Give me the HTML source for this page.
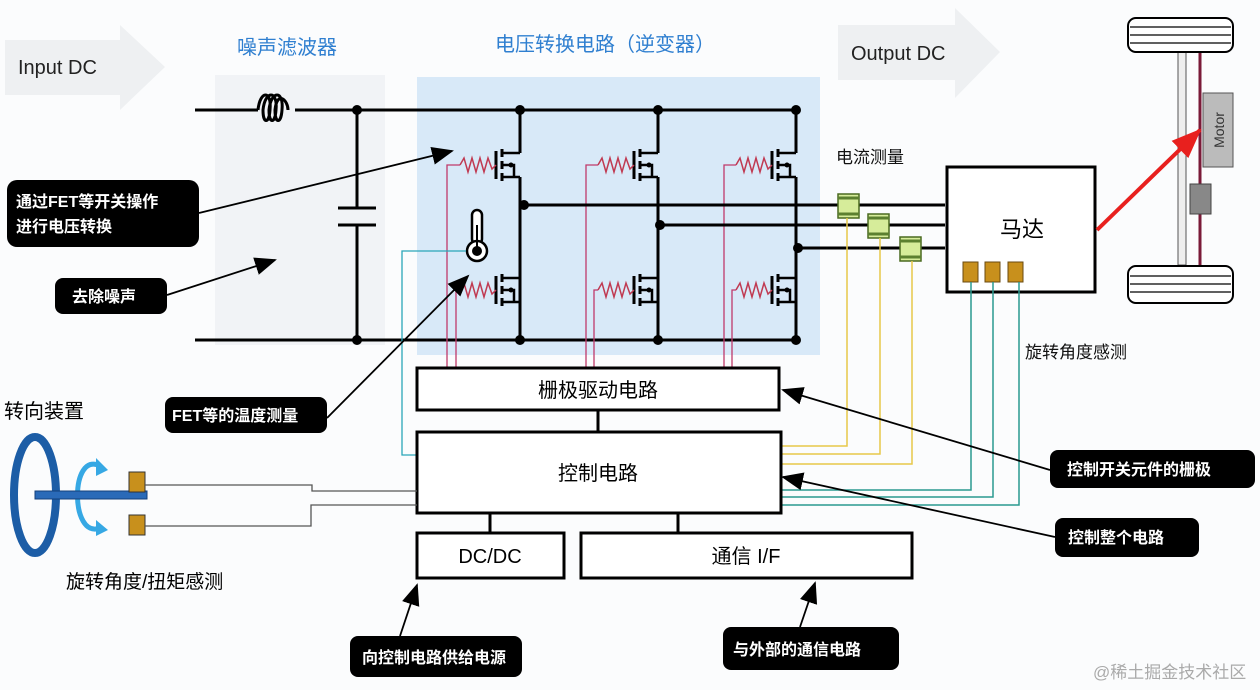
<!DOCTYPE html>
<html><head><meta charset="utf-8"><style>
html,body{margin:0;padding:0;background:#fbfcfd;}
svg{display:block;font-family:"Liberation Sans","Noto Sans CJK SC",sans-serif;}
.lb{fill:#fff;font-size:16px;font-weight:bold;}
</style></head><body>
<svg width="1260" height="690" viewBox="0 0 1260 690" xmlns="http://www.w3.org/2000/svg">
<defs>
<marker id="ahb" markerWidth="22" markerHeight="22" refX="20" refY="11" orient="auto" markerUnits="userSpaceOnUse" viewBox="0 0 22 22"><path d="M0,2 L22,11 L0,20 z" fill="#000"/></marker>
<marker id="ahr" markerWidth="30" markerHeight="30" refX="28" refY="15" orient="auto" markerUnits="userSpaceOnUse" viewBox="0 0 30 30"><path d="M0,3 L30,15 L0,27 z" fill="#e8201e"/></marker>
<g id="fet">
  <path d="M-24,-14 V14" stroke="#000" stroke-width="3"/>
  <path d="M-18,-16 V-8 M-18,-4 V4 M-18,8 V16" stroke="#000" stroke-width="3"/>
  <path d="M-18,-12 H0 M-18,0 H-6 V12 M-18,12 H0" stroke="#000" stroke-width="2.5" fill="none"/>
  <circle cx="-9" cy="0" r="2.5" fill="#000"/>
  <path d="M-60,0 L-56,-7 L-52,7 L-48,-7 L-44,7 L-40,-7 L-36,7 L-32,-7 L-28,4 L-24,0" stroke="#c03a52" stroke-width="1.5" fill="none"/>
</g>
</defs>
<rect width="1260" height="690" fill="#fbfcfd"/>
<path d="M5,40 H120 V25 L165,67 L120,110 V95 H5 z" fill="#eef0f2"/>
<text x="18" y="74" font-size="20" fill="#222">Input DC</text>
<path d="M838,25 H955 V8 L1000,52 L955,98 V80 H838 z" fill="#eef0f2"/>
<text x="851" y="60" font-size="20" fill="#222">Output DC</text>
<text x="237" y="54" font-size="20" fill="#2f7fd0">噪声滤波器</text>
<text x="495" y="51" font-size="20" fill="#2f7fd0">电压转换电路（逆变器）</text>
<rect x="215" y="75" width="170" height="270" fill="#f1f3f6"/>
<rect x="417" y="77" width="403" height="278" fill="#d8e9f8"/>
<path d="M195,110 H258 M295,110 H797 M195,340 H797" stroke="#000" stroke-width="3" fill="none"/>
<path d="M258,110 c2,-20 14,-20 12,0 c-1,14 -7,14 -7,0 c2,-20 15,-20 13,0 c-1,14 -7,14 -7,0 c2,-20 15,-20 13,0 c-1,14 -7,14 -7,0 c2,-20 13,-10 13,0" stroke="#000" stroke-width="3" fill="none"/>
<path d="M357,110 V208 M338,208 H376 M338,225 H376 M357,225 V340" stroke="#000" stroke-width="3"/>
<g fill="#000"><circle cx="357" cy="110" r="5"/><circle cx="357" cy="340" r="5"/>
<circle cx="520" cy="110" r="5"/><circle cx="658" cy="110" r="5"/><circle cx="796" cy="110" r="5"/>
<circle cx="520" cy="340" r="5"/><circle cx="658" cy="340" r="5"/><circle cx="796" cy="340" r="5"/>
<circle cx="524" cy="205" r="5"/><circle cx="660" cy="225" r="5"/><circle cx="798" cy="248" r="5"/></g>
<path d="M520,110 V153 M520,177 V340 M658,110 V153 M658,177 V340 M796,110 V153 M796,177 V340" stroke="#000" stroke-width="3"/>
<use href="#fet" x="520" y="165"/><use href="#fet" x="658" y="165"/><use href="#fet" x="796" y="165"/>
<use href="#fet" x="520" y="290"/><use href="#fet" x="658" y="290"/><use href="#fet" x="796" y="290"/>
<g stroke="#c03a6a" stroke-width="1.3" fill="none">
<path d="M460,165 H447 V368 M460,290 H456 V368"/>
<path d="M598,165 H586 V368 M598,290 H594 V368"/>
<path d="M736,165 H724 V368 M736,290 H732 V368"/>
</g>
<path d="M524,205 H945 M660,225 H945 M798,248 H945" stroke="#000" stroke-width="3"/>
<rect x="472" y="210" width="10" height="34" rx="5" fill="#fff" stroke="#000" stroke-width="2.5"/>
<circle cx="477" cy="251" r="10" fill="#fff" stroke="#000" stroke-width="2.5"/>
<circle cx="477" cy="251" r="5" fill="#000"/><path d="M477,225 V250" stroke="#000" stroke-width="2"/>
<path d="M466,251 H402 V455 H417" stroke="#2aa6b8" stroke-width="1.3" fill="none"/>
<g stroke="#4a6a20" stroke-width="1.5">
<rect x="838" y="194" width="21" height="24" fill="#d6ec9a"/><rect x="868" y="214" width="21" height="24" fill="#d6ec9a"/><rect x="900" y="237" width="21" height="24" fill="#d6ec9a"/></g>
<path d="M838,198 h21 M838,214 h21 M868,218 h21 M868,234 h21 M900,241 h21 M900,257 h21" stroke="#5c8030" stroke-width="3"/>
<g stroke="#e8c84a" stroke-width="1.5" fill="none">
<path d="M847,218 V446 H781"/><path d="M880,238 V454 H781"/><path d="M912,261 V464 H781"/></g>
<rect x="947" y="167" width="148" height="125" fill="#fff" stroke="#000" stroke-width="3"/>
<text x="1000" y="237" font-size="22">马达</text>
<g fill="#c8901c" stroke="#6a4a10" stroke-width="1"><rect x="963" y="262" width="15" height="20"/><rect x="985" y="262" width="15" height="20"/><rect x="1008" y="262" width="15" height="20"/></g>
<g stroke="#2a9a90" stroke-width="1.5" fill="none">
<path d="M971,282 V490 H781"/><path d="M993,282 V497 H781"/><path d="M1019,282 V505 H781"/></g>
<text x="836" y="163" font-size="17" fill="#111">电流测量</text>
<text x="1025" y="358" font-size="17" fill="#111">旋转角度感测</text>
<rect x="1178" y="50" width="8" height="215" fill="#eee" stroke="#555"/>
<path d="M1200,40 V275" stroke="#7a1a38" stroke-width="3"/>
<rect x="1128" y="18" width="105" height="34" rx="8" fill="#fff" stroke="#000" stroke-width="2"/>
<path d="M1130,27 H1231 M1130,35 H1231 M1130,43 H1231" stroke="#000" stroke-width="1.2"/>
<rect x="1128" y="266" width="105" height="37" rx="8" fill="#fff" stroke="#000" stroke-width="2"/>
<path d="M1130,276 H1231 M1130,284 H1231 M1130,292 H1231" stroke="#000" stroke-width="1.2"/>
<rect x="1203" y="93" width="30" height="74" fill="#bbb" stroke="#555"/>
<text transform="translate(1224,130) rotate(-90)" font-size="14" text-anchor="middle" fill="#333">Motor</text>
<rect x="1190" y="184" width="21" height="30" fill="#888" stroke="#444"/>
<path d="M1097,230 L1200,130" stroke="#e8201e" stroke-width="4" marker-end="url(#ahr)"/>
<g fill="#fff" stroke="#000" stroke-width="3">
<rect x="417" y="368" width="362" height="42"/>
<rect x="417" y="432" width="364" height="81"/>
<rect x="417" y="533" width="147" height="45"/>
<rect x="581" y="533" width="331" height="45"/></g>
<path d="M598,410 V432 M490,513 V533 M678,513 V533" stroke="#000" stroke-width="3"/>
<g font-size="20" text-anchor="middle"><text x="598" y="397">栅极驱动电路</text><text x="598" y="480">控制电路</text><text x="490" y="563">DC/DC</text><text x="746" y="563">通信 I/F</text></g>
<text x="4" y="418" font-size="20">转向装置</text>
<ellipse cx="35" cy="495" rx="21" ry="58" fill="none" stroke="#1c5da6" stroke-width="8"/>
<path d="M100,466 C70,450 70,540 100,528" stroke="#36a8e4" stroke-width="5" fill="none"/>
<path d="M96,458 L108,470 L96,476 z M96,520 L108,530 L96,536 z" fill="#36a8e4"/>
<rect x="35" y="491" width="112" height="8" fill="#2a6ab8" stroke="#14407a"/>
<rect x="129" y="472" width="16" height="20" fill="#c8901c" stroke="#333"/>
<rect x="129" y="515" width="16" height="20" fill="#c8901c" stroke="#333"/>
<path d="M145,485 H312 V491 H417 M145,526 H311 V505 H417" stroke="#555" stroke-width="1.3" fill="none"/>
<text x="66" y="588" font-size="19">旋转角度/扭矩感测</text>
<g fill="#000">
<rect x="7" y="180" width="192" height="67" rx="10"/>
<rect x="55" y="278" width="112" height="36" rx="8"/>
<rect x="165" y="397" width="162" height="36" rx="8"/>
<rect x="1050" y="450" width="205" height="38" rx="8"/>
<rect x="1055" y="518" width="144" height="39" rx="8"/>
<rect x="350" y="636" width="172" height="41" rx="8"/>
<rect x="723" y="627" width="176" height="43" rx="8"/></g>
<text class="lb" x="16" y="207">通过FET等开关操作</text><text class="lb" x="16" y="232">进行电压转换</text>
<text class="lb" x="72" y="302">去除噪声</text>
<text class="lb" x="172" y="421">FET等的温度测量</text>
<text class="lb" x="1067" y="475">控制开关元件的栅极</text>
<text class="lb" x="1068" y="543">控制整个电路</text>
<text class="lb" x="362" y="663">向控制电路供给电源</text>
<text class="lb" x="733" y="655">与外部的通信电路</text>
<g stroke="#000" stroke-width="1.8" marker-end="url(#ahb)">
<path d="M199,213 L452,151"/>
<path d="M167,295 L275,260"/>
<path d="M327,418 L468,276"/>
<path d="M1050,470 L783,390"/>
<path d="M1055,537 L783,477"/>
<path d="M400,636 L417,585"/>
<path d="M800,627 L815,583"/>
</g>
<text x="1093" y="678" font-size="17" fill="#aaa">@稀土掘金技术社区</text>
</svg>
</body></html>
